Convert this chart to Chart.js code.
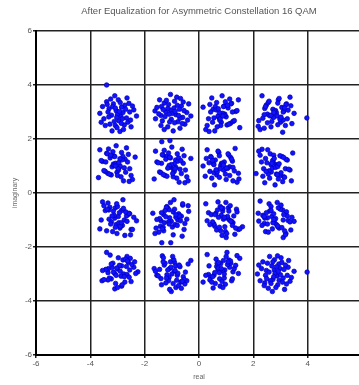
<!DOCTYPE html>
<html>
<head>
<meta charset="utf-8">
<script src="https://cdn.jsdelivr.net/npm/chart.js@4"></script>
<style>
html,body{margin:0;padding:0;background:#fff;overflow:hidden;width:359px;height:385px;}
#wrap{position:absolute;left:0;top:0;width:372px;height:385px;}
</style>
</head>
<body>
<div id="wrap"><canvas id="c" width="372" height="385"></canvas></div>
<script>
const chartTitle = 'After Equalization for Asymmetric Constellation 16 QAM';
const xAxisLabel = 'real';
const yAxisLabel = 'imaginary';
const axisTicks = [-6, -4, -2, 0, 2, 4, 6];

// Row 1 (imag ≈ +3): four clusters then stray points
const realRow1 = [
-2.88,-3.31,-2.55,-3.08,-2.73,-3.50,-2.97,-2.62,-3.22,-2.40,-3.15,-2.91,-3.40,-2.80,-3.05,-2.67,-3.65,-2.85,-3.28,-2.50,-3.10,-2.95,-3.35,-2.75,-3.18,-2.58,-3.45,-3.00,-2.82,-3.25,-2.30,-3.02,-2.70,-3.55,-2.90,-3.12,-2.52,-3.32,-2.78,-3.08,-2.65,-3.60,-2.93,-3.20,-2.45,-3.38,-2.86,-3.03,
-1.05,-0.78,-0.90,-1.40,-0.65,-1.15,-0.45,-1.28,-1.02,-0.82,-0.60,-1.62,-0.52,-0.92,-0.85,-1.12,-0.95,-0.72,-1.35,-1.45,-0.30,-1.22,-0.90,-1.38,-0.70,-0.58,-1.40,-0.98,-1.15,-0.42,-1.05,-1.48,-0.80,-0.70,-0.55,-1.25,-1.20,-1.08,-1.55,-0.75,-0.38,-1.28,-0.88,-1.60,-0.68,-0.62,-1.32,-1.10,
0.73,1.16,0.40,0.93,0.58,1.35,0.82,0.47,1.07,0.25,1.00,0.76,1.25,0.65,0.90,0.52,1.50,0.70,1.13,0.35,0.95,0.80,1.20,0.60,1.03,0.43,1.30,0.85,0.67,1.10,0.15,0.87,0.55,1.40,0.75,0.97,0.37,1.17,0.63,0.93,0.50,1.45,0.78,1.05,0.30,1.23,0.71,0.88,
2.70,2.48,3.18,3.12,2.20,2.92,2.52,3.42,3.05,2.25,2.72,2.60,2.55,3.25,3.10,3.00,2.32,2.75,3.38,2.65,2.82,2.40,3.22,3.10,2.42,2.90,2.58,3.50,2.35,2.45,3.08,2.85,2.68,2.95,2.88,3.28,2.18,3.20,2.98,2.78,2.52,3.35,2.65,3.15,2.40,2.90,3.02,2.75,
-3.40,3.97];
const imagRow1 = [
2.85,3.12,3.00,2.50,3.25,2.75,3.45,2.62,2.88,3.08,3.30,2.28,3.38,2.98,3.05,2.78,2.95,3.18,2.55,2.45,3.60,2.68,3.00,2.52,3.20,3.32,2.50,2.92,2.75,3.48,2.85,2.42,3.10,3.20,3.35,2.65,2.70,2.82,2.35,3.15,3.52,2.62,3.02,2.30,3.22,3.28,2.58,2.80,
3.07,2.64,3.40,2.87,3.22,2.45,2.98,3.33,2.73,3.55,2.80,3.04,2.55,3.15,2.90,3.28,2.30,3.10,2.67,3.45,2.85,3.00,2.60,3.20,2.77,3.37,2.50,2.95,3.13,2.70,3.65,2.93,3.25,2.40,3.05,2.83,3.43,2.63,3.17,2.87,3.30,2.35,3.02,2.75,3.50,2.57,3.09,2.92,
2.80,2.58,3.28,3.22,2.30,3.02,2.62,3.52,3.15,2.35,2.82,2.70,2.65,3.35,3.20,3.10,2.42,2.85,3.48,2.75,2.92,2.50,3.32,3.20,2.52,3.00,2.68,3.60,2.45,2.55,3.18,2.95,2.78,3.05,2.98,3.38,2.28,3.30,3.08,2.88,2.62,3.45,2.75,3.25,2.50,3.00,3.12,2.85,
2.83,3.26,2.50,3.03,2.68,3.45,2.92,2.57,3.17,2.35,3.10,2.86,3.35,2.75,3.00,2.62,3.60,2.80,3.23,2.45,3.05,2.90,3.30,2.70,3.13,2.53,3.40,2.95,2.77,3.20,2.25,2.97,2.65,3.50,2.85,3.07,2.47,3.27,2.73,3.03,2.60,3.55,2.88,3.15,2.40,3.33,2.81,2.98,
4.00,2.78];

// Row 2 (imag ≈ +1)
const realRow2 = [
-2.93,-3.36,-2.60,-3.13,-2.78,-3.55,-3.02,-2.67,-3.27,-2.45,-3.20,-2.96,-3.45,-2.85,-3.10,-2.72,-3.70,-2.90,-3.33,-2.55,-3.15,-3.00,-3.40,-2.80,-3.23,-2.63,-3.50,-3.05,-2.87,-3.30,-2.35,-3.07,-2.75,-3.60,-2.95,-3.17,-2.57,-3.37,-2.83,-3.13,-2.70,-3.65,-2.98,-3.25,-2.50,-3.43,-2.91,-3.08,
-1.03,-0.86,-1.38,-0.45,-1.20,-0.93,-1.60,-0.65,-1.08,-0.78,-1.32,-0.52,-1.12,-0.90,-1.55,-0.70,-1.02,-0.30,-1.25,-0.82,-1.00,-1.45,-0.58,-1.18,-0.75,-1.35,-0.95,-1.10,-0.50,-1.28,-0.85,-1.65,-0.67,-1.05,-0.80,-1.40,-0.91,-1.15,-0.40,-1.22,-0.62,-0.97,-1.50,-0.73,-1.08,-0.55,-1.31,-0.88,
0.95,1.17,0.47,0.53,1.45,0.73,1.13,0.23,0.60,1.40,0.93,1.05,1.10,0.40,0.55,0.65,1.33,0.90,0.27,1.00,0.83,1.25,0.43,0.55,1.23,0.75,1.07,0.15,1.30,1.20,0.57,0.80,0.97,0.70,0.77,0.37,1.47,0.45,0.67,0.87,1.13,0.30,1.00,0.50,1.25,0.75,0.63,0.90,
2.83,2.66,3.18,2.25,3.00,2.73,3.40,2.45,2.88,2.58,3.12,2.32,2.92,2.70,3.35,2.50,2.82,2.10,3.05,2.62,2.80,3.25,2.38,2.98,2.55,3.15,2.75,2.90,2.30,3.08,2.65,3.45,2.47,2.85,2.60,3.20,2.71,2.95,2.20,3.02,2.42,2.77,3.30,2.53,2.88,2.35,3.11,2.68,
-1.37,-1.07];
const imagRow2 = [
0.95,0.73,1.43,1.37,0.45,1.17,0.77,1.67,1.30,0.50,0.97,0.85,0.80,1.50,1.35,1.25,0.57,1.00,1.63,0.90,1.07,0.65,1.47,1.35,0.67,1.15,0.83,1.75,0.60,0.70,1.33,1.10,0.93,1.20,1.13,1.53,0.43,1.45,1.23,1.03,0.77,1.60,0.90,1.40,0.65,1.15,1.27,1.00,
0.95,1.22,1.10,0.60,1.35,0.85,1.55,0.72,0.98,1.18,1.40,0.38,1.48,1.08,1.15,0.88,1.05,1.28,0.65,0.55,1.70,0.78,1.10,0.62,1.30,1.42,0.60,1.02,0.85,1.58,0.95,0.52,1.20,1.30,1.45,0.75,0.80,0.92,0.45,1.25,1.62,0.72,1.12,0.40,1.32,1.38,0.68,0.90,
0.88,1.31,0.55,1.08,0.73,1.50,0.97,0.62,1.22,0.40,1.15,0.91,1.40,0.80,1.05,0.67,1.65,0.85,1.28,0.50,1.10,0.95,1.35,0.75,1.18,0.58,1.45,1.00,0.82,1.25,0.30,1.02,0.70,1.55,0.90,1.12,0.52,1.32,0.78,1.08,0.65,1.60,0.93,1.20,0.45,1.38,0.86,1.03,
1.05,0.78,0.90,1.40,0.65,1.15,0.45,1.28,1.02,0.82,0.60,1.62,0.52,0.92,0.85,1.12,0.95,0.72,1.35,1.45,0.30,1.22,0.90,1.38,0.70,0.58,1.40,0.98,1.15,0.42,1.05,1.48,0.80,0.70,0.55,1.25,1.20,1.08,1.55,0.75,0.38,1.28,0.88,1.60,0.68,0.62,1.32,1.10,
1.90,1.94];

// Row 3 (imag ≈ -1)
const realRow3 = [
-2.88,-3.31,-2.55,-3.08,-2.73,-3.50,-2.97,-2.62,-3.22,-2.40,-3.15,-2.91,-3.40,-2.80,-3.05,-2.67,-3.65,-2.85,-3.28,-2.50,-3.10,-2.95,-3.35,-2.75,-3.18,-2.58,-3.45,-3.00,-2.82,-3.25,-2.30,-3.02,-2.70,-3.55,-2.90,-3.12,-2.52,-3.32,-2.78,-3.08,-2.65,-3.60,-2.93,-3.20,-2.45,-3.38,-2.86,-3.03,
-0.72,-0.98,-1.18,-1.40,-0.38,-1.48,-1.08,-1.15,-0.88,-1.05,-1.28,-0.65,-0.55,-1.70,-0.78,-1.10,-0.62,-1.30,-1.42,-0.60,-1.02,-0.85,-1.58,-0.95,-0.52,-1.20,-1.30,-1.45,-0.75,-0.80,-0.92,-0.45,-1.25,-1.62,-0.72,-1.12,-0.40,-1.32,-1.38,-0.68,-0.90,-0.95,-1.22,-1.10,-0.60,-1.35,-0.85,-1.55,
0.87,1.04,0.52,1.45,0.70,0.97,0.30,1.25,0.82,1.12,0.58,1.38,0.78,1.00,0.35,1.20,0.88,1.60,0.65,1.08,0.90,0.45,1.32,0.72,1.15,0.55,0.95,0.80,1.40,0.62,1.05,0.25,1.23,0.85,1.10,0.50,0.99,0.75,1.50,0.68,1.28,0.93,0.40,1.17,0.82,1.35,0.59,1.02,
2.52,2.78,2.98,3.20,2.18,3.28,2.88,2.95,2.68,2.85,3.08,2.45,2.35,3.50,2.58,2.90,2.42,3.10,3.22,2.40,2.82,2.65,3.38,2.75,2.32,3.00,3.10,3.25,2.55,2.60,2.72,2.25,3.05,3.42,2.52,2.92,2.20,3.12,3.18,2.48,2.70,2.75,3.02,2.90,2.40,3.15,2.65,3.35,
-1.37,-1.04];
const imagRow3 = [
-1.23,-0.97,-0.77,-0.55,-1.57,-0.47,-0.87,-0.80,-1.07,-0.90,-0.67,-1.30,-1.40,-0.25,-1.17,-0.85,-1.33,-0.65,-0.53,-1.35,-0.93,-1.10,-0.37,-1.00,-1.43,-0.75,-0.65,-0.50,-1.20,-1.15,-1.03,-1.50,-0.70,-0.33,-1.23,-0.83,-1.55,-0.63,-0.57,-1.27,-1.05,-1.00,-0.73,-0.85,-1.35,-0.60,-1.10,-0.40,
-0.83,-1.26,-0.50,-1.03,-0.68,-1.45,-0.92,-0.57,-1.17,-0.35,-1.10,-0.86,-1.35,-0.75,-1.00,-0.62,-1.60,-0.80,-1.23,-0.45,-1.05,-0.90,-1.30,-0.70,-1.13,-0.53,-1.40,-0.95,-0.77,-1.20,-0.25,-0.97,-0.65,-1.50,-0.85,-1.07,-0.47,-1.27,-0.73,-1.03,-0.60,-1.55,-0.88,-1.15,-0.40,-1.33,-0.81,-0.98,
-0.67,-0.93,-1.13,-1.35,-0.33,-1.43,-1.03,-1.10,-0.83,-1.00,-1.23,-0.60,-0.50,-1.65,-0.73,-1.05,-0.57,-1.25,-1.37,-0.55,-0.97,-0.80,-1.53,-0.90,-0.47,-1.15,-1.25,-1.40,-0.70,-0.75,-0.87,-0.40,-1.20,-1.57,-0.67,-1.07,-0.35,-1.27,-1.33,-0.63,-0.85,-0.90,-1.17,-1.05,-0.55,-1.30,-0.80,-1.50,
-0.92,-1.09,-0.57,-1.50,-0.75,-1.02,-0.35,-1.30,-0.87,-1.17,-0.63,-1.43,-0.83,-1.05,-0.40,-1.25,-0.93,-1.65,-0.70,-1.13,-0.95,-0.50,-1.37,-0.77,-1.20,-0.60,-1.00,-0.85,-1.45,-0.67,-1.10,-0.30,-1.28,-0.90,-1.15,-0.55,-1.04,-0.80,-1.55,-0.73,-1.33,-0.98,-0.45,-1.22,-0.87,-1.40,-0.64,-1.07,
-1.84,-1.84];

// Row 4 (imag ≈ -3)
const realRow4 = [
-3.00,-2.73,-2.85,-3.35,-2.60,-3.10,-2.40,-3.23,-2.97,-2.77,-2.55,-3.57,-2.47,-2.87,-2.80,-3.07,-2.90,-2.67,-3.30,-3.40,-2.25,-3.17,-2.85,-3.33,-2.65,-2.53,-3.35,-2.93,-3.10,-2.37,-3.00,-3.43,-2.75,-2.65,-2.50,-3.20,-3.15,-3.03,-3.50,-2.70,-2.33,-3.23,-2.83,-3.55,-2.63,-2.57,-3.27,-3.05,
-0.91,-1.40,-0.80,-1.05,-0.67,-1.65,-0.85,-1.28,-0.50,-1.10,-0.95,-1.35,-0.75,-1.18,-0.58,-1.45,-1.00,-0.82,-1.25,-0.30,-1.02,-0.70,-1.55,-0.90,-1.12,-0.52,-1.32,-0.78,-1.08,-0.65,-1.60,-0.93,-1.20,-0.45,-1.38,-0.86,-1.03,-0.88,-1.31,-0.55,-1.08,-0.73,-1.50,-0.97,-0.62,-1.22,-0.40,-1.15,
0.76,1.25,0.65,0.90,0.52,1.50,0.70,1.13,0.35,0.95,0.80,1.20,0.60,1.03,0.43,1.30,0.85,0.67,1.10,0.15,0.87,0.55,1.40,0.75,0.97,0.37,1.17,0.63,0.93,0.50,1.45,0.78,1.05,0.30,1.23,0.71,0.88,0.73,1.16,0.40,0.93,0.58,1.35,0.82,0.47,1.07,0.25,1.00,
2.77,2.94,2.42,3.35,2.60,2.87,2.20,3.15,2.72,3.02,2.48,3.28,2.68,2.90,2.25,3.10,2.78,3.50,2.55,2.98,2.80,2.35,3.22,2.62,3.05,2.45,2.85,2.70,3.30,2.52,2.95,2.15,3.13,2.75,3.00,2.40,2.89,2.65,3.40,2.58,3.18,2.83,2.30,3.07,2.72,3.25,2.49,2.92,
3.98];
const imagRow4 = [
-2.81,-3.30,-2.70,-2.95,-2.57,-3.55,-2.75,-3.18,-2.40,-3.00,-2.85,-3.25,-2.65,-3.08,-2.48,-3.35,-2.90,-2.72,-3.15,-2.20,-2.92,-2.60,-3.45,-2.80,-3.02,-2.42,-3.22,-2.68,-2.98,-2.55,-3.50,-2.83,-3.10,-2.35,-3.28,-2.76,-2.93,-2.78,-3.21,-2.45,-2.98,-2.63,-3.40,-2.87,-2.52,-3.12,-2.30,-3.05,
-2.90,-3.17,-3.05,-2.55,-3.30,-2.80,-3.50,-2.67,-2.93,-3.13,-3.35,-2.33,-3.43,-3.03,-3.10,-2.83,-3.00,-3.23,-2.60,-2.50,-3.65,-2.73,-3.05,-2.57,-3.25,-3.37,-2.55,-2.97,-2.80,-3.53,-2.90,-2.47,-3.15,-3.25,-3.40,-2.70,-2.75,-2.87,-2.40,-3.20,-3.57,-2.67,-3.07,-2.35,-3.27,-3.33,-2.63,-2.85,
-3.18,-2.92,-2.72,-2.50,-3.52,-2.42,-2.82,-2.75,-3.02,-2.85,-2.62,-3.25,-3.35,-2.20,-3.12,-2.80,-3.28,-2.60,-2.48,-3.30,-2.88,-3.05,-2.32,-2.95,-3.38,-2.70,-2.60,-2.45,-3.15,-3.10,-2.98,-3.45,-2.65,-2.28,-3.18,-2.78,-3.50,-2.58,-2.52,-3.22,-3.00,-2.95,-2.68,-2.80,-3.30,-2.55,-3.05,-2.35,
-2.85,-2.63,-3.33,-3.27,-2.35,-3.07,-2.67,-3.57,-3.20,-2.40,-2.87,-2.75,-2.70,-3.40,-3.25,-3.15,-2.47,-2.90,-3.53,-2.80,-2.97,-2.55,-3.37,-3.25,-2.57,-3.05,-2.73,-3.65,-2.50,-2.60,-3.23,-3.00,-2.83,-3.10,-3.03,-3.43,-2.33,-3.35,-3.13,-2.93,-2.67,-3.50,-2.80,-3.30,-2.55,-3.05,-3.17,-2.90,
-2.93];

const realAll = [].concat(realRow1, realRow2, realRow3, realRow4);
const imagAll = [].concat(imagRow1, imagRow2, imagRow3, imagRow4);
const points = [];
for (let i = 0; i < Math.min(realAll.length, imagAll.length); i++) {
  points.push({ x: realAll[i], y: imagAll[i] });
}

const tickFont = { family: 'Liberation Sans, Arial, sans-serif', size: 8 };
const tickColor = '#555';

new Chart(document.getElementById('c'), {
  type: 'scatter',
  data: {
    datasets: [{
      data: points,
      pointRadius: 2.3,
      pointHoverRadius: 2.3,
      backgroundColor: '#1212ff',
      borderColor: '#0000b8',
      borderWidth: 0.7
    }]
  },
  options: {
    responsive: false,
    animation: false,
    devicePixelRatio: 1,
    layout: { padding: { left: 0, right: 10, top: 0, bottom: 0 } },
    plugins: {
      legend: { display: false },
      tooltip: { enabled: false },
      title: {
        display: true,
        text: chartTitle,
        fullSize: false,
        color: '#555',
        font: { family: 'Liberation Sans, Arial, sans-serif', size: 9.5, weight: 'normal' },
        padding: { top: 6, bottom: 13.6 }
      }
    },
    scales: {
      x: {
        type: 'linear',
        min: -6, max: 6,
        afterBuildTicks: s => { s.ticks = axisTicks.map(v => ({ value: v })); },
        ticks: { font: tickFont, color: tickColor, padding: 1, maxRotation: 0 },
        grid: { color: '#222', lineWidth: 1.5, tickLength: 3 },
        border: { color: '#000', width: 2 },
        title: { display: true, text: xAxisLabel, color: '#666',
                 font: { family: 'Liberation Sans, Arial, sans-serif', size: 7 }, padding: { top: 0, bottom: 4 } },
        afterFit: s => { s.height = 30; }
      },
      y: {
        type: 'linear',
        min: -6, max: 6,
        afterBuildTicks: s => { s.ticks = axisTicks.map(v => ({ value: v })); },
        ticks: { font: tickFont, color: tickColor, padding: 1 },
        grid: { color: '#222', lineWidth: 1.5, tickLength: 3 },
        border: { color: '#000', width: 2 },
        title: { display: true, text: yAxisLabel, color: '#666',
                 font: { family: 'Liberation Sans, Arial, sans-serif', size: 7 }, padding: { top: 11, bottom: 0 } },
        afterFit: s => { s.width = 36; }
      }
    }
  }
});
</script>
</body>
</html>
